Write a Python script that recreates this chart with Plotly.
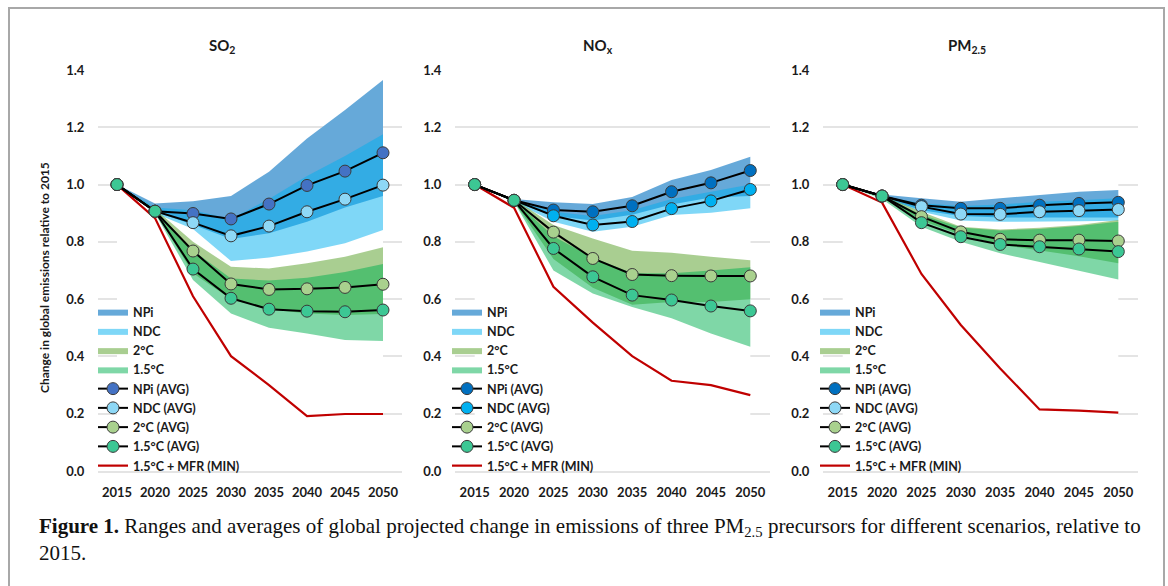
import plotly.graph_objects as go

years = ["2015", "2020", "2025", "2030", "2035", "2040", "2045", "2050"]
y_ticks = [0.0, 0.2, 0.4, 0.6, 0.8, 1.0, 1.2, 1.4]
panel_titles = ["SO<sub>2</sub>", "NO<sub>x</sub>", "PM<sub>2.5</sub>"]
legend_names = ["NPi", "NDC", "2°C", "1.5°C", "NPi (AVG)", "NDC (AVG)", "2°C (AVG)", "1.5°C (AVG)", "1.5°C + MFR (MIN)"]
y_title = "Change in global emissions relative to 2015"
caption = ("<b>Figure 1.</b> Ranges and averages of global projected change in emissions of three "
           "PM<sub>2.5</sub> precursors for different scenarios, relative to<br>2015.")

# ---------------- SO2 ----------------
so2_npi_lo = [1.0, 0.905, 0.86, 0.81, 0.83, 0.87, 0.92, 0.96]
so2_npi_hi = [1.0, 0.934, 0.942, 0.96, 1.045, 1.161, 1.26, 1.365]
so2_ndc_lo = [1.0, 0.90, 0.845, 0.733, 0.745, 0.766, 0.795, 0.841]
so2_ndc_hi = [1.0, 0.92, 0.91, 0.88, 0.95, 1.03, 1.10, 1.176]
so2_2c_lo = [1.0, 0.905, 0.69, 0.60, 0.565, 0.55, 0.545, 0.548]
so2_2c_hi = [1.0, 0.915, 0.80, 0.713, 0.707, 0.725, 0.748, 0.781]
so2_15_lo = [1.0, 0.90, 0.667, 0.55, 0.50, 0.48, 0.457, 0.454]
so2_15_hi = [1.0, 0.912, 0.77, 0.672, 0.665, 0.675, 0.695, 0.723]
so2_npi_avg = [1.0, 0.907, 0.899, 0.880, 0.932, 0.997, 1.047, 1.111]
so2_ndc_avg = [1.0, 0.907, 0.867, 0.821, 0.855, 0.905, 0.949, 0.998]
so2_2c_avg = [1.0, 0.907, 0.768, 0.653, 0.634, 0.636, 0.641, 0.652]
so2_15_avg = [1.0, 0.907, 0.705, 0.603, 0.565, 0.558, 0.556, 0.562]
so2_mfr = [1.0, 0.883, 0.61, 0.401, 0.30, 0.192, 0.199, 0.199]

# ---------------- NOx ----------------
nox_npi_lo = [1.0, 0.94, 0.89, 0.875, 0.895, 0.93, 0.955, 0.96]
nox_npi_hi = [1.0, 0.95, 0.938, 0.932, 0.957, 1.016, 1.051, 1.097]
nox_ndc_lo = [1.0, 0.94, 0.87, 0.835, 0.853, 0.894, 0.902, 0.917]
nox_ndc_hi = [1.0, 0.945, 0.905, 0.89, 0.91, 0.95, 0.975, 1.0]
nox_2c_lo = [1.0, 0.94, 0.74, 0.64, 0.58, 0.59, 0.59, 0.60]
nox_2c_hi = [1.0, 0.95, 0.859, 0.812, 0.769, 0.762, 0.748, 0.736]
nox_15_lo = [1.0, 0.94, 0.70, 0.62, 0.573, 0.533, 0.48, 0.434]
nox_15_hi = [1.0, 0.945, 0.82, 0.745, 0.69, 0.69, 0.70, 0.711]
nox_npi_avg = [1.0, 0.945, 0.911, 0.905, 0.926, 0.975, 1.006, 1.049]
nox_ndc_avg = [1.0, 0.945, 0.891, 0.859, 0.871, 0.916, 0.943, 0.983]
nox_2c_avg = [1.0, 0.945, 0.834, 0.742, 0.686, 0.682, 0.681, 0.681]
nox_15_avg = [1.0, 0.945, 0.777, 0.678, 0.614, 0.597, 0.576, 0.559]
nox_mfr = [1.0, 0.919, 0.643, 0.518, 0.401, 0.315, 0.300, 0.265]

# ---------------- PM2.5 ----------------
pm_npi_lo = [1.0, 0.955, 0.91, 0.89, 0.885, 0.885, 0.885, 0.885]
pm_npi_hi = [1.0, 0.965, 0.952, 0.94, 0.952, 0.963, 0.975, 0.981]
pm_ndc_lo = [1.0, 0.955, 0.905, 0.875, 0.87, 0.87, 0.872, 0.874]
pm_ndc_hi = [1.0, 0.96, 0.935, 0.925, 0.93, 0.94, 0.945, 0.952]
pm_2c_lo = [1.0, 0.955, 0.875, 0.825, 0.79, 0.77, 0.75, 0.725]
pm_2c_hi = [1.0, 0.962, 0.905, 0.853, 0.843, 0.849, 0.859, 0.876]
pm_15_lo = [1.0, 0.95, 0.853, 0.80, 0.76, 0.73, 0.70, 0.669]
pm_15_hi = [1.0, 0.96, 0.895, 0.85, 0.84, 0.845, 0.855, 0.87]
pm_npi_avg = [1.0, 0.960, 0.928, 0.917, 0.917, 0.928, 0.934, 0.938]
pm_ndc_avg = [1.0, 0.960, 0.923, 0.897, 0.896, 0.905, 0.909, 0.913]
pm_2c_avg = [1.0, 0.960, 0.888, 0.835, 0.809, 0.806, 0.806, 0.803]
pm_15_avg = [1.0, 0.960, 0.867, 0.818, 0.791, 0.783, 0.775, 0.766]
pm_mfr = [1.0, 0.937, 0.688, 0.51, 0.358, 0.215, 0.211, 0.204]

band_fill = ["rgba(0,112,192,0.6)", "rgba(0,176,240,0.5)", "rgba(112,173,71,0.6)", "rgba(0,176,80,0.5)"]
avg_marker = [
    ["#4472C4", "#8ED8F6", "#A9D18E", "#3CC794"],
    ["#0070C0", "#00B0F0", "#A9D18E", "#3CC794"],
    ["#0070C0", "#8ED8F6", "#A9D18E", "#3CC794"],
]

panels = [
    ([(so2_npi_lo, so2_npi_hi), (so2_ndc_lo, so2_ndc_hi), (so2_2c_lo, so2_2c_hi), (so2_15_lo, so2_15_hi)],
     [so2_npi_avg, so2_ndc_avg, so2_2c_avg, so2_15_avg], so2_mfr),
    ([(nox_npi_lo, nox_npi_hi), (nox_ndc_lo, nox_ndc_hi), (nox_2c_lo, nox_2c_hi), (nox_15_lo, nox_15_hi)],
     [nox_npi_avg, nox_ndc_avg, nox_2c_avg, nox_15_avg], nox_mfr),
    ([(pm_npi_lo, pm_npi_hi), (pm_ndc_lo, pm_ndc_hi), (pm_2c_lo, pm_2c_hi), (pm_15_lo, pm_15_hi)],
     [pm_npi_avg, pm_ndc_avg, pm_2c_avg, pm_15_avg], pm_mfr),
]

W, H = 1168, 586
px = lambda v: v / W
py = lambda v: 1 - v / H

x_domains = [(px(98), px(402)), (px(455), px(770)), (px(823), px(1138))]
y_domain = (py(471), py(70))
legend_x = [px(93), px(447), px(815)]
title_x = [222, 598, 967]

FONT = "Lato, 'Open Sans', sans-serif"
fig = go.Figure()

for i, (bands, avgs, mfr) in enumerate(panels):
    xa = "x" if i == 0 else f"x{i+1}"
    ya = "y" if i == 0 else f"y{i+1}"
    lg = "legend" if i == 0 else f"legend{i+1}"
    # opaque white envelope under the translucent ranges (hides gridlines like the original)
    env_lo = [min(b[0][k] for b in bands) for k in range(len(years))]
    env_hi = [max(b[1][k] for b in bands) for k in range(len(years))]
    fig.add_trace(go.Scatter(x=years, y=env_lo, mode="lines", line=dict(width=0, color="rgba(0,0,0,0)"),
                             showlegend=False, hoverinfo="skip", xaxis=xa, yaxis=ya, legend=lg))
    fig.add_trace(go.Scatter(x=years, y=env_hi, mode="lines", fill="tonexty", fillcolor="white",
                             line=dict(width=0, color="rgba(0,0,0,0)"),
                             showlegend=False, hoverinfo="skip", xaxis=xa, yaxis=ya, legend=lg))
    for j, (lo, hi) in enumerate(bands):
        fig.add_trace(go.Scatter(x=years, y=lo, mode="lines", line=dict(width=0, color="rgba(0,0,0,0)"),
                                 showlegend=False, hoverinfo="skip", xaxis=xa, yaxis=ya, legend=lg))
        fig.add_trace(go.Scatter(x=years, y=hi, mode="lines", fill="tonexty", fillcolor=band_fill[j],
                                 line=dict(width=0, color="rgba(0,0,0,0)"), name=legend_names[j],
                                 legendrank=j + 1, xaxis=xa, yaxis=ya, legend=lg))
    fig.add_trace(go.Scatter(x=years, y=mfr, mode="lines", line=dict(color="#C00000", width=2.2),
                             name=legend_names[8], legendrank=9, xaxis=xa, yaxis=ya, legend=lg))
    for j, avg in enumerate(avgs):
        fig.add_trace(go.Scatter(x=years, y=avg, mode="lines+markers",
                                 line=dict(color="#000000", width=2),
                                 marker=dict(size=12, color=avg_marker[i][j], line=dict(color="#3a3a3a", width=1)),
                                 name=legend_names[4 + j], legendrank=5 + j, xaxis=xa, yaxis=ya, legend=lg))
    # white backdrop between gridlines and data over the projection period
    fig.add_shape(type="rect", xref=xa, yref=ya, x0=0, x1=len(years) - 1, y0=0.003, y1=avgs[0][0] + 0.012,
                  fillcolor="white", line=dict(width=0), layer="between")
    fig.add_annotation(text=f"<b>{panel_titles[i]}</b>", x=px(title_x[i]), y=py(46), xref="paper", yref="paper",
                       xanchor="center", yanchor="middle",
                       showarrow=False, font=dict(size=15, family=FONT, color="#1a1a1a"))

tickfont = dict(family=FONT, size=13, color="#1a1a1a", weight="bold")
layout = dict(
    width=W, height=H, margin=dict(l=0, r=0, t=0, b=0, autoexpand=False),
    paper_bgcolor="white", plot_bgcolor="white",
    font=dict(family=FONT),
)
for i in range(3):
    sx = "" if i == 0 else str(i + 1)
    layout[f"xaxis{sx}"] = dict(domain=list(x_domains[i]), type="category", range=[-0.5, len(years) - 0.5],
                                showgrid=False, ticks="outside", ticklen=9, tickcolor="rgba(0,0,0,0)",
                                anchor=f"y{sx}", showline=True, linecolor="#E4E4E4", linewidth=1.5,
                                zeroline=False, tickfont=tickfont, automargin=False)
    layout[f"yaxis{sx}"] = dict(domain=list(y_domain), range=[0, 1.4], tickvals=y_ticks, tickformat=".1f",
                                showgrid=True, gridcolor="#E4E4E4", gridwidth=1.5, showline=False, zeroline=False,
                                ticks="outside", ticklen=10, tickcolor="rgba(0,0,0,0)", anchor=f"x{sx}",
                                tickfont=tickfont, automargin=False)
    lgk = "legend" if i == 0 else f"legend{i+1}"
    layout[lgk] = dict(x=legend_x[i], y=py(297), xanchor="left", yanchor="top", bgcolor="rgba(0,0,0,0)",
                       font=dict(family=FONT, size=12.5, color="#1a1a1a", weight="bold"),
                       traceorder="normal", tracegroupgap=0, itemwidth=30)
fig.update_layout(**layout)

fig.add_annotation(text=f"<b>{y_title}</b>", x=px(44), y=py(278), xref="paper", yref="paper", textangle=-90,
                   xanchor="center", yanchor="middle",
                   showarrow=False, font=dict(size=12, family=FONT, color="#1a1a1a"))
fig.add_annotation(text=caption, x=px(37), y=py(512), xref="paper", yref="paper", xanchor="left", yanchor="top",
                   align="left", showarrow=False,
                   font=dict(size=21, family="'Liberation Serif', 'DejaVu Serif', serif", color="#111111"))
# figure frame
fig.add_shape(type="rect", xref="paper", yref="paper", x0=px(9), x1=px(1164), y0=-0.05, y1=py(8),
              line=dict(color="#A8A8A8", width=2), fillcolor="rgba(0,0,0,0)", layer="above")

fig.write_html("out.html", config={"displayModeBar": False},
               post_script="document.body.style.margin='0';document.body.style.overflow='hidden';")
